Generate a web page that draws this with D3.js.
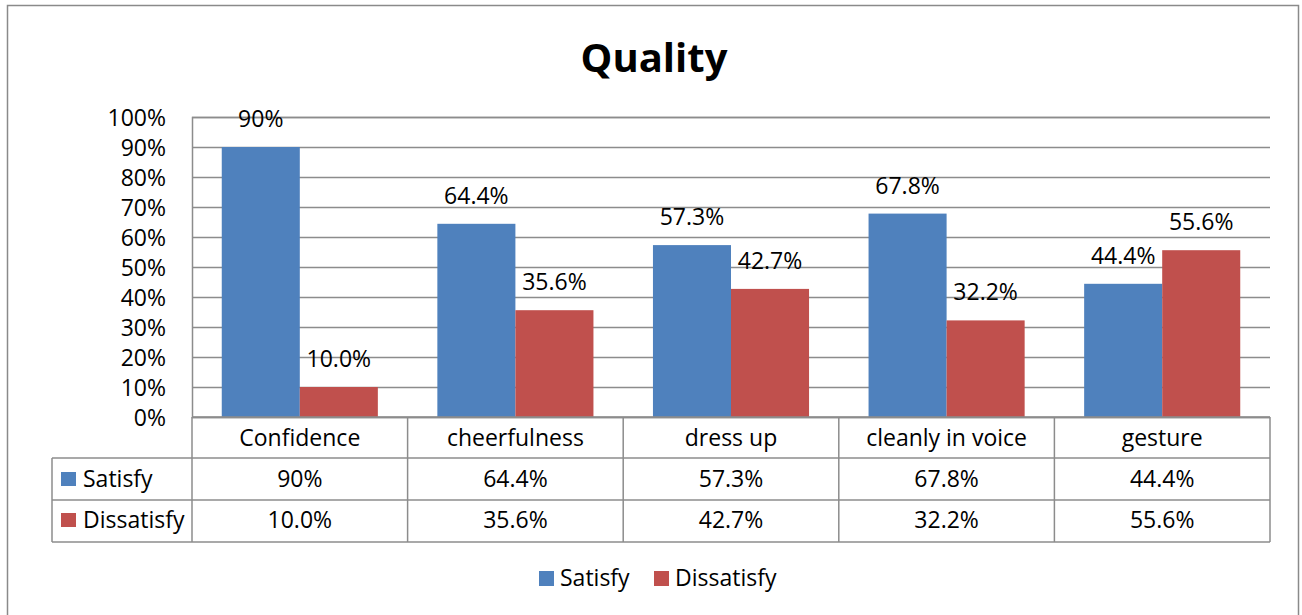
<!DOCTYPE html>
<html><head><meta charset="utf-8">
<script src="https://cdn.jsdelivr.net/npm/d3@7"></script>
<style>body{margin:0;background:#fff}svg{display:block}text{font-family:"Open Sans",Lato,"Liberation Sans",sans-serif;fill:#000}</style>
</head><body><svg id="c" width="1302" height="615"></svg>
<script>
const categories = ["Confidence","cheerfulness","dress up","cleanly in voice","gesture"];
const seriesNames = ["Satisfy","Dissatisfy"];
const satisfy = [0.90,0.644,0.573,0.678,0.444];
const dissatisfy = [0.10,0.356,0.427,0.322,0.556];
const satisfyLabels = ["90%","64.4%","57.3%","67.8%","44.4%"];
const dissatisfyLabels = ["10.0%","35.6%","42.7%","32.2%","55.6%"];
const yTicks = [0,0.1,0.2,0.3,0.4,0.5,0.6,0.7,0.8,0.9,1.0];
const colors = ["#4F81BD","#C0504D"];

const values = [satisfy, dissatisfy];
const labels = [satisfyLabels, dissatisfyLabels];
const svg = d3.select("#c");
const FS = 23, grid = "#8c8c8c";
const L = 192, R = 1270, T = 117, B = 417;
const rowH = [417,458,500,542];
const tableLeft = 52;

svg.append("rect").attr("x",7.5).attr("y",5.5).attr("width",1291).attr("height",640)
  .attr("fill","#fff").attr("stroke","#8a8a8a").attr("stroke-width",1.5);

svg.append("text").attr("x",654).attr("y",72).attr("text-anchor","middle")
  .style("font-weight","bold").style("font-size","40px").text("Quality");

const y = d3.scaleLinear().domain([0,1]).range([B,T]);
const x0 = d3.scaleBand().domain(categories).range([L,R]).paddingInner(0.276).paddingOuter(0.138);
const x1 = d3.scaleBand().domain(seriesNames).range([0,x0.bandwidth()]);
const xc = d3.scaleBand().domain(categories).range([L,R]);

// gridlines
const yAxis = d3.axisLeft(y).tickValues(yTicks).tickSize(-(R-L)).tickFormat(d=>Math.round(d*100)+"%").tickPadding(26);
const ga = svg.append("g").attr("transform",`translate(${L},0)`).call(yAxis);
ga.select(".domain").attr("stroke",grid).attr("stroke-width",1.5);
ga.selectAll(".tick line").attr("stroke",grid).attr("stroke-width",1.5);
ga.selectAll(".tick text").style("font-size",FS+"px").attr("fill","#000").attr("dy","0.36em");

// bars
seriesNames.forEach((s,si)=>{
  svg.append("g").selectAll("rect").data(categories).join("rect")
    .attr("x",c=>x0(c)+x1(s)).attr("width",x1.bandwidth())
    .attr("y",(c,i)=>y(values[si][i])).attr("height",(c,i)=>B-y(values[si][i]))
    .attr("fill",colors[si]);
  svg.append("g").selectAll("text").data(categories).join("text")
    .attr("x",c=>x0(c)+x1(s)+x1.bandwidth()/2).attr("y",(c,i)=>y(values[si][i])-20)
    .attr("text-anchor","middle").style("font-size",FS+"px").text((c,i)=>labels[si][i]);
});

// data table
const tg = svg.append("g").attr("stroke",grid).attr("stroke-width",1.5).attr("fill","none");
tg.append("line").attr("x1",L).attr("x2",R).attr("y1",B).attr("y2",B);
rowH.slice(1).forEach(h=>tg.append("line").attr("x1",tableLeft).attr("x2",R).attr("y1",h).attr("y2",h));
tg.append("line").attr("x1",tableLeft).attr("x2",tableLeft).attr("y1",rowH[1]).attr("y2",rowH[3]);
categories.concat(["_end"]).forEach((c,i)=>{
  const xx = i<categories.length ? xc(c) : R;
  tg.append("line").attr("x1",xx).attr("x2",xx).attr("y1",B).attr("y2",rowH[3]);
});
svg.append("g").selectAll("text").data(categories).join("text")
  .attr("x",c=>xc(c)+xc.bandwidth()/2).attr("y",446).attr("text-anchor","middle")
  .style("font-size",FS+"px").text(c=>c);
seriesNames.forEach((s,si)=>{
  const by = [487,528][si];
  svg.append("rect").attr("x",61).attr("y",by-15).attr("width",15).attr("height",14).attr("fill",colors[si]);
  svg.append("text").attr("x",83).attr("y",by).style("font-size",FS+"px").text(s);
  svg.append("g").selectAll("text").data(categories).join("text")
    .attr("x",c=>xc(c)+xc.bandwidth()/2).attr("y",by).attr("text-anchor","middle")
    .style("font-size",FS+"px").text((c,i)=>labels[si][i]);
});

// legend
const lg = svg.append("g");
const lx = [539,654];
seriesNames.forEach((s,si)=>{
  lg.append("rect").attr("x",lx[si]).attr("y",571).attr("width",15).attr("height",15).attr("fill",colors[si]);
  lg.append("text").attr("x",lx[si]+21).attr("y",586).style("font-size",FS+"px").text(s);
});
</script></body></html>
